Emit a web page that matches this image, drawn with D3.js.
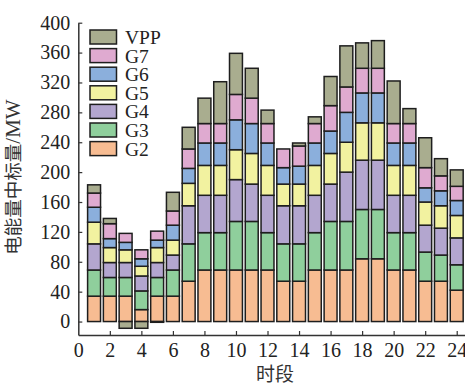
<!DOCTYPE html>
<html>
<head>
<meta charset="utf-8">
<script src="https://cdn.jsdelivr.net/npm/d3@7"></script>
<style>
  html, body { margin: 0; padding: 0; background: #fff; }
  svg { display: block; }
  .tick text { font-family: "Liberation Serif", "DejaVu Serif", serif; font-size: 20px; fill: #222; }
</style>
</head>
<body>
<svg id="chart" width="465" height="385"></svg>
<script>
// Hourly cleared energy per unit (MW), periods 1..24
const hours = d3.range(1, 25);
const G2  = [34,34,34,16,34,34,54,69,69,69,69,69,54,54,69,69,69,84,84,69,69,54,54,42];
const G3  = [35,25,25,25,25,35,50,50,50,65,65,50,50,50,50,65,65,66,66,50,50,39,35,34];
const G4  = [35,20,20,20,20,20,51,50,50,56,50,50,51,51,50,50,66,66,66,50,50,36,36,36];
const G5  = [29,20,17,13,20,20,30,40,40,40,41,40,29,29,40,41,40,50,50,40,40,31,30,30];
const G6  = [20,12,10,10,10,20,20,30,30,40,40,30,22,24,30,30,40,40,40,30,30,19,20,20];
const G7  = [19,20,12,12,12,19,26,26,26,34,34,26,25,27,26,34,34,33,33,26,26,27,20,19];
const VPP = [11, 7,-9,-9,-1,25,29,34,56,55,40,18, 0, 4, 9,39,55,34,37,57,20,40,23,22];

const seriesNames = ["G2","G3","G4","G5","G6","G7","VPP"];
const seriesValues = { G2, G3, G4, G5, G6, G7, VPP };
const colors = {
  G2: "#f7bc92", G3: "#8fcf9c", G4: "#b3a6cf", G5: "#f2f2a0",
  G6: "#8bafdc", G7: "#dfaad0", VPP: "#a9ad8f"
};
const yTicks = d3.range(0, 401, 40);
const xTicks = d3.range(0, 25, 2);

const rows = hours.map((h, i) => {
  const r = { hour: h };
  seriesNames.forEach(s => { r[s] = seriesValues[s][i]; });
  return r;
});

const svg = d3.select("#chart");

const x = d3.scaleLinear().domain([0, 24.5]).range([78.3, 464.6]);
const y = d3.scaleLinear().domain([-18, 400]).range([335, 22.7]);

const stacked = d3.stack()
  .keys(seriesNames)
  .offset(d3.stackOffsetDiverging)(rows);

const halfW = 0.41;

svg.append("g")
  .selectAll("g")
  .data(stacked)
  .join("g")
    .attr("fill", d => colors[d.key])
  .selectAll("rect")
  .data(d => d.filter(p => p[1] !== p[0]))
  .join("rect")
    .attr("x", p => x(p.data.hour - halfW))
    .attr("width", p => x(p.data.hour + halfW) - x(p.data.hour - halfW))
    .attr("y", p => y(Math.max(p[0], p[1])))
    .attr("height", p => Math.abs(y(p[0]) - y(p[1])))
    .attr("stroke", "#1e1e1e")
    .attr("stroke-width", 1.5);

// Axes with inward ticks
const yAxis = d3.axisLeft(y).tickValues(yTicks).tickSize(-4).tickSizeOuter(0).tickPadding(8);
const xAxis = d3.axisBottom(x).tickValues(xTicks).tickSize(-4).tickSizeOuter(0).tickPadding(8);

const gy = svg.append("g").attr("transform", `translate(${x(0)},0)`).call(yAxis);
const gx = svg.append("g").attr("transform", `translate(0,${y(-18)})`).call(xAxis);
[gx, gy].forEach(g => {
  g.select(".domain").attr("stroke", "#333").attr("stroke-width", 1.5);
  g.selectAll(".tick line").attr("stroke", "#333").attr("stroke-width", 1.2);
});
gx.selectAll(".tick").filter(d => d === 0).select("line").remove();

// Axis titles
const yTitle = svg.append("text")
  .attr("transform", `translate(20,177) rotate(-90)`)
  .attr("text-anchor", "middle")
  .attr("fill", "#333");
yTitle.append("tspan")
  .attr("font-family", "'Noto Sans CJK SC', sans-serif")
  .attr("font-size", 18.5)
  .text("电能量中标量");
yTitle.append("tspan")
  .attr("font-family", "'Liberation Serif', serif")
  .attr("font-size", 21)
  .text("/MW");

svg.append("text")
  .attr("x", 275)
  .attr("y", 381)
  .attr("text-anchor", "middle")
  .attr("font-family", "'Noto Sans CJK SC', sans-serif")
  .attr("font-size", 19)
  .attr("fill", "#333")
  .text("时段");

// Legend, top entry is the last stacked series
const legendOrder = seriesNames.slice().reverse();
const legend = svg.append("g");
legendOrder.forEach((name, i) => {
  const cy = 37 + i * 18.6;
  legend.append("rect")
    .attr("x", 90).attr("y", cy - 7)
    .attr("width", 26.5).attr("height", 14)
    .attr("fill", colors[name])
    .attr("stroke", "#1e1e1e").attr("stroke-width", 1.5);
  legend.append("text")
    .attr("x", 125).attr("y", cy + 7)
    .attr("font-family", "'Liberation Serif', serif")
    .attr("font-size", 19.5)
    .attr("fill", "#222")
    .text(name);
});
</script>
</body>
</html>
